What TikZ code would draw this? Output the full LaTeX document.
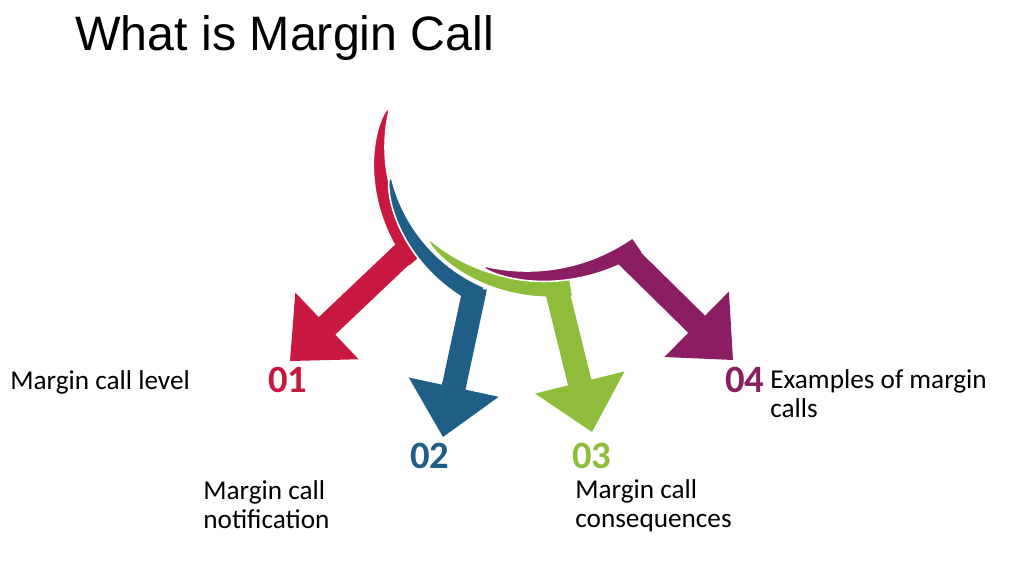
\documentclass[tikz,border=0pt]{standalone}
\usepackage{fontspec}
\setmainfont{Carlito}
\newfontfamily\titlefont{Liberation Sans}
\usetikzlibrary{calc}
\definecolor{mcred}{RGB}{200,24,64}
\definecolor{mcblue}{RGB}{31,94,134}
\definecolor{mcgreen}{RGB}{141,189,58}
\definecolor{mcpurple}{RGB}{139,30,99}

\begin{document}
\begin{tikzpicture}[x=0.02cm,y=0.02cm,
        band/.style={draw=white,line width=0.9pt},
        caption/.style={anchor=base west,align=left,inner sep=0pt,font=\fontsize{15.5}{16}\selectfont},
        num/.style={anchor=base west,inner sep=0pt,font=\fontsize{22}{22}\selectfont\bfseries}]
        \useasboundingbox (0,0) rectangle (1024,-572);
        \node[anchor=base west,inner sep=0pt,font=\titlefont\fontsize{27.5}{27.5}\selectfont] (title) at (75,-50) {What is Margin Call};
        % crescent bands (centre, radius, angles, width), each ending in a fat arrow
        \foreach \cx/\cy/\ri/\a/\b/\w/\ang/\tx/\ty/\c in {547/-147/162/166/221/21/216/290/-361/mcred,
                                                         547/-140/160/193/247/20/244/443/-437/mcblue,
                                                         540/-110/170/229/280/19/275/592/-432/mcgreen,
                                                         527/-87/184/256/305/18/300/733/-360/mcpurple}{
            \coordinate (hub) at (\cx,\cy);
            \fill[\c,band,shift={(hub)}] plot[domain=\a:\b,samples=40,variable=\q] (\q:{\ri+\w*sqrt((\q-\a)/(\b-\a))})
                -- plot[domain=\b:\a,samples=40,variable=\q] (\q:\ri) -- cycle;
            \coordinate (shaft) at ($(hub)+(\ang:{\ri+4})$);
            \coordinate (point) at (\tx,\ty);
            \coordinate (base) at ($(point)!1.02cm!(shaft)$);
            \fill[\c] ($(shaft)!0.24cm!90:(point)$) -- ($(base)!0.24cm!90:(point)$) -- ($(base)!0.92cm!90:(point)$) -- (point)
                -- ($(base)!0.92cm!-90:(point)$) -- ($(base)!0.24cm!-90:(point)$) -- ($(shaft)!0.24cm!-90:(point)$) -- cycle;
        }
        \node[num,mcred] (n1) at (268,-392) {01};
        \node[num,mcblue] (n2) at (410,-468) {02};
        \node[num,mcgreen] (n3) at (572,-468) {03};
        \node[num,mcpurple] (n4) at (725,-392) {04};
        \node[caption] (t1) at (10,-389) {Margin call level};
        \node[caption] (t2) at (203,-528) {Margin call\\notification};
        \node[caption] (t3) at (575,-527) {Margin call\\consequences};
        \node[caption] (t4) at (770,-417) {Examples of margin\\calls};
\end{tikzpicture}
\end{document}
